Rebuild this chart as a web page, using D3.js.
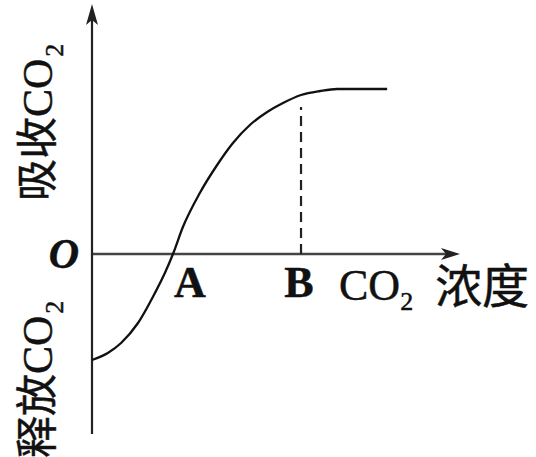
<!DOCTYPE html>
<html>
<head>
<meta charset="utf-8">
<script src="https://cdn.jsdelivr.net/npm/d3@7"></script>
<style>
  html, body { margin: 0; padding: 0; background: #fff; }
  text { font-family: "Liberation Serif", "Noto Sans CJK SC", serif; fill: #111; stroke: #111; stroke-width: 0.5; }
</style>
</head>
<body>
<div id="chart"></div>
<script>
// curve (concentration, uptake)
var concX = [0, 0.43, 0.79, 1.25, 1.71, 1.98, 2.2, 2.47, 2.93, 3.4, 3.83, 4.29, 4.76, 5.19, 5.68, 6.2, 6.66, 8.02];
var uptakeY = [-4.24, -3.96, -3.56, -2.76, -1.56, -0.76, 0, 1.08, 2.44, 3.56, 4.44, 5.16, 5.68, 6.04, 6.36, 6.52, 6.6, 6.6];
var pointNames = ['A', 'B'];
var pointX = [2.2, 5.68];
var dashTopY = 5.88;
var xDomain = [0, 10];
var yDomain = [-7.2, 10];

(function() {
    'use strict';

    var width = 536, height = 457;

    var svg = d3.select('#chart').append('svg')
        .attr('width', width)
        .attr('height', height);

    var x = d3.scaleLinear().domain(xDomain).range([92, 460]);
    var y = d3.scaleLinear().domain(yDomain).range([434, 4]);

    var data = concX.map(function(d, i) {
        return { x: d, y: uptakeY[i] };
    });

    // axes
    svg.append('line')
        .attr('x1', x(0)).attr('y1', y(0))
        .attr('x2', x(xDomain[1]) - 6).attr('y2', y(0))
        .attr('stroke', '#444').attr('stroke-width', 2.4);
    svg.append('line')
        .attr('x1', x(0)).attr('y1', y(yDomain[0]))
        .attr('x2', x(0)).attr('y2', y(yDomain[1]) + 6)
        .attr('stroke', '#222').attr('stroke-width', 2.2);

    // arrow heads
    var xt = x(xDomain[1]), yt = y(0);
    svg.append('path')
        .attr('d', 'M' + xt + ',' + yt + 'L' + (xt - 19) + ',' + (yt - 6) +
            'L' + (xt - 14) + ',' + yt + 'L' + (xt - 19) + ',' + (yt + 6) + 'Z')
        .attr('fill', '#222');
    var ax = x(0), ay = y(yDomain[1]);
    svg.append('path')
        .attr('d', 'M' + ax + ',' + ay + 'L' + (ax - 6) + ',' + (ay + 21) +
            'L' + ax + ',' + (ay + 16) + 'L' + (ax + 6) + ',' + (ay + 21) + 'Z')
        .attr('fill', '#222');

    // dashed guide at B
    svg.append('line')
        .attr('x1', x(pointX[1])).attr('y1', y(0))
        .attr('x2', x(pointX[1])).attr('y2', y(dashTopY))
        .attr('stroke', '#222').attr('stroke-width', 2.2)
        .attr('stroke-dasharray', '10,6');

    // the curve
    var line = d3.line()
        .x(function(d) { return x(d.x); })
        .y(function(d) { return y(d.y); })
        .curve(d3.curveMonotoneX);
    svg.append('path')
        .datum(data)
        .attr('d', line)
        .attr('fill', 'none')
        .attr('stroke', '#111')
        .attr('stroke-width', 2.3);

    // labels
    svg.append('text')
        .attr('x', 79).attr('y', 268)
        .attr('text-anchor', 'end')
        .attr('font-size', 42)
        .attr('font-style', 'italic')
        .attr('font-weight', 'bold')
        .text('O');

    pointNames.forEach(function(n, i) {
        svg.append('text')
            .attr('x', x(pointX[i]) + (i === 0 ? 17 : -2))
            .attr('y', 297)
            .attr('text-anchor', 'middle')
            .attr('font-size', 44)
            .attr('font-weight', 'bold')
            .text(n);
    });

    var xl = svg.append('text')
        .attr('x', 339).attr('y', 300)
        .attr('font-size', 44);
    xl.append('tspan').text('CO');
    xl.append('tspan').attr('font-size', 26).attr('dy', 10).text('2');
    xl.append('tspan').attr('dy', -7).attr('font-size', 47).attr('dx', 22).text('浓度');

    function vLabel(px, py, pre) {
        var t = svg.append('text')
            .attr('transform', 'translate(' + px + ',' + py + ') rotate(-90)')
            .attr('font-size', 42);
        t.append('tspan').text(pre + 'CO');
        t.append('tspan').attr('font-size', 26).attr('dy', 11).attr('dx', 2).text('2');
    }
    vLabel(52, 201, '吸收');
    vLabel(52, 458, '释放');
})();
</script>
</body>
</html>
